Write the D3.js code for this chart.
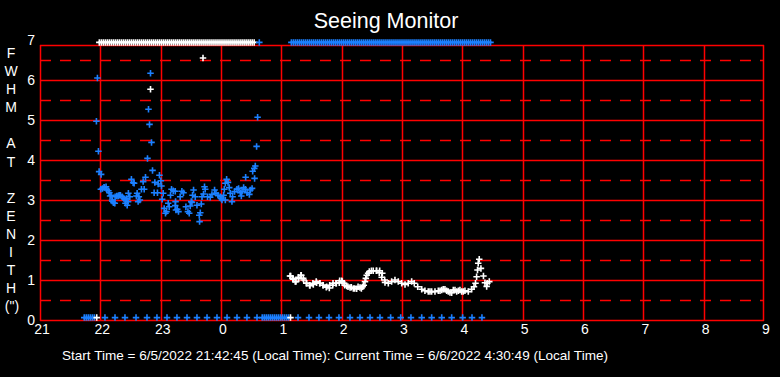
<!DOCTYPE html>
<html><head><meta charset="utf-8">
<script src="https://cdn.jsdelivr.net/npm/d3@7"></script>
<style>
html,body{margin:0;padding:0;background:#000;}
svg{display:block;}
text{font-family:"Liberation Sans",Arial,sans-serif;fill:#fff;}
</style></head>
<body>
<script>
// ---- Data (time = minutes after 21:00 local, value = FWHM at zenith in arcsec) ----
const chartTitle = "Seeing Monitor";
const footerText = "Start Time = 6/5/2022 21:42:45 (Local Time): Current Time = 6/6/2022 4:30:49 (Local Time)";
const yLabelLines = ["F","W","H","M","","A","T","","Z","E","N","I","T","H","(\")"];
const xTickMinutes = [0,60,120,180,240,300,360,420,480,540,600,660,720];
const xTickLabels = ["21","22","23","0","1","2","3","4","5","6","7","8","9"];
const yTickValues = [0,1,2,3,4,5,6,7];
const solidGridValues = [1,2,3,4,5,6];
const dashedGridValues = [0.5,1.5,2.5,3.5,4.5,5.5,6.5];

const blueTimes = [56.1,57.1,58.1,58.8,60.5,60.8,62.1,63.7,64.0,65.7,66.4,68.0,69.0,69.7,70.7,71.7,72.0,73.0,74.4,74.7,76.4,77.7,78.7,80.0,81.7,83.4,84.7,85.0,86.0,86.7,87.6,87.9,89.3,90.9,92.6,93.6,95.9,96.6,97.6,98.3,99.3,100.9,102.6,103.6,104.9,106.9,107.9,108.9,109.9,110.9,111.9,113.5,114.2,116.8,117.5,118.8,120.2,120.8,121.5,122.5,123.5,124.8,125.8,127.5,128.5,129.8,130.8,132.5,134.5,134.5,134.8,135.2,136.5,137.7,139.4,141.1,142.7,145.1,147.1,148.4,149.4,150.4,151.1,151.7,152.7,154.4,156.1,158.4,158.7,159.4,160.4,161.1,162.6,163.6,164.3,166.6,169.3,171.0,173.6,175.0,177.0,179.3,180.3,181.0,182.6,183.3,184.3,184.3,185.6,187.0,188.2,189.2,190.9,191.5,193.5,195.9,197.5,199.2,200.2,200.9,202.5,204.2,204.5,205.9,208.2,209.2,210.9,211.5,213.1,213.4,214.1,215.4,216.4];
const blueValues = [4.97,6.05,4.22,3.71,3.27,3.64,3.29,3.32,3.31,3.33,3.27,3.23,3.18,3.10,3.12,3.00,2.97,2.93,2.92,3.08,3.10,3.10,3.12,3.12,3.08,3.04,3.00,2.92,3.04,2.87,2.96,3.17,3.08,3.52,3.43,3.42,3.10,3.17,2.96,3.08,3.00,3.27,3.46,3.27,3.57,4.04,5.27,4.89,6.17,4.44,3.74,3.18,3.44,3.18,3.40,3.62,3.48,3.35,3.02,3.17,2.79,2.67,2.71,2.92,2.83,3.12,3.27,3.23,3.22,2.86,2.96,2.75,2.77,2.71,3.08,3.22,3.18,2.83,2.71,2.67,2.85,2.96,2.94,3.12,3.25,3.08,2.87,2.62,2.46,2.68,2.90,3.08,3.15,3.33,3.27,3.08,3.07,3.14,3.25,3.17,3.12,3.08,3.04,3.00,3.12,3.27,3.42,3.00,3.52,3.44,3.31,3.17,2.96,3.08,3.21,3.27,3.29,3.18,3.10,3.22,3.31,3.27,3.57,3.18,3.14,3.25,3.29,3.72,3.79,3.54,3.85,4.34,5.07];

const whiteTimes = [109.9,162.1,248.6,249.3,251.4,251.9,253.8,254.6,256.9,257.3,259.5,259.8,261.8,262.2,264.8,265.2,268.1,268.5,271.4,271.8,274.7,275.1,278.1,278.4,281.4,281.7,284.7,285.1,287.7,288.1,291.1,291.4,294.3,294.7,297.6,298.0,300.0,300.6,302.3,303.0,305.0,306.3,308.3,309.6,311.6,313.0,314.9,316.3,318.2,319.6,320.9,322.0,323.2,324.0,324.9,326.3,327.5,329.6,331.4,334.5,334.8,337.4,337.8,339.8,340.4,342.8,343.1,346.4,349.7,353.0,356.3,359.7,363.0,366.2,369.6,372.2,375.6,379.6,382.8,386.1,387.8,389.5,392.8,396.1,397.8,399.5,401.0,402.7,404.4,406.0,407.7,409.4,411.0,412.7,414.4,416.0,417.6,419.3,420.9,422.6,425.9,429.3,431.6,433.1,434.2,435.1,435.8,436.8,438.5,441.0,442.5,444.2,444.8,446.8];
const whiteValues = [5.77,6.55,1.10,1.10,1.04,1.02,0.96,0.96,1.07,1.04,1.12,1.12,1.04,1.00,0.92,0.92,0.87,0.86,0.92,0.89,0.96,0.93,0.92,0.92,0.87,0.87,0.82,0.83,0.80,0.87,0.87,0.92,0.92,0.92,0.93,0.98,0.98,0.96,0.92,0.87,0.85,0.83,0.81,0.82,0.79,0.79,0.78,0.83,0.81,0.79,0.83,0.87,0.96,1.04,1.12,1.17,1.21,1.23,1.23,1.23,1.23,1.18,1.23,1.07,1.17,1.00,0.94,0.92,0.96,1.00,0.96,0.92,0.89,0.92,0.96,0.92,0.83,0.77,0.73,0.71,0.71,0.71,0.71,0.73,0.73,0.75,0.77,0.77,0.73,0.71,0.69,0.68,0.75,0.75,0.71,0.73,0.75,0.71,0.71,0.73,0.71,0.77,0.83,0.92,1.08,1.25,1.42,1.52,1.29,1.10,0.93,0.84,0.92,0.96];

// off-scale readings pinned to the top edge (above 7") and to zero
const topValue = 6.94;
const bottomValue = 0.06;
const topWhiteTimes = [59,61,63,65,67,69,71,73,75,77,79,81,83,85,87,89,91,93,95,97,99,101,103,105,107,109,111,113,115,117,119,121,123,125,127,129,131,133,135,137,139,141,143,145,147,149,151,153,155,157,159,161,163,165,167,169,171,173,175,177,179,181,183,185,187,189,191,193,195,197,199,201,203,205,207,209,211,213];
const topBlueTimes = [218.1,250,252,254,256,258,260,262,264,266,268,270,272,274,276,278,280,282,284,286,288,290,292,294,296,298,300,302,304,306,308,310,312,314,316,318,320,322,324,326,328,330,332,334,336,338,340,342,344,346,348,350,352,354,356,358,360,362,364,366,368,370,372,374,376,378,380,382,384,386,388,390,392,394,396,398,400,402,404,406,408,410,412,414,416,418,420,422,424,426,428,430,432,434,436,438,440,442,444,446,448];
const bottomBlueTimes = [44,46,48,50,52,54,64.6,74.6,84.5,95.5,106.4,116.3,126.3,136.2,146.2,156.1,166.1,176,186,195.9,205.8,215.8,221,223,225,227,229,231,233,235,237,239,241,243,245,247,256.6,267.5,277.4,287.4,297.3,308.3,318.2,328.2,338.1,348.7,358.7,368.9,379.6,389.5,399.5,409.4,420.3,429.6,439.5];
const bottomWhiteTimes = [56.4,249.1];

// ---- Drawing ----
const W = 780, H = 377;
const RED = "#ff0000", BLUE = "#1c80ff", WHITE = "#ffffff";
const svg = d3.select("body").append("svg").attr("width", W).attr("height", H)
  .style("background", "#000");

const x = d3.scaleLinear().domain([0, 720]).range([40, 764]);
const y = d3.scaleLinear().domain([0, 7]).range([320, 40]);
const plotTop = 45, plotBottom = y(0);
const px = v => Math.round(v) + 0.5;
const LW = 1.5;

svg.append("text").attr("x", 386).attr("y", 28).attr("text-anchor", "middle")
  .style("font-size", "21.5px").text(chartTitle);

const grid = svg.append("g");
grid.selectAll("line.dash").data(dashedGridValues).join("line")
  .attr("x1", x(0)).attr("x2", x(720)).attr("y1", d => px(y(d))).attr("y2", d => px(y(d)))
  .attr("stroke", RED).attr("stroke-width", LW).attr("stroke-dasharray", "11,9");
grid.selectAll("line.solid").data(solidGridValues).join("line")
  .attr("x1", x(0)).attr("x2", x(720)).attr("y1", d => px(y(d))).attr("y2", d => px(y(d)))
  .attr("stroke", RED).attr("stroke-width", LW);
grid.selectAll("line.v").data(xTickMinutes.slice(1, -1)).join("line")
  .attr("x1", d => px(x(d))).attr("x2", d => px(x(d))).attr("y1", plotTop).attr("y2", plotBottom)
  .attr("stroke", RED).attr("stroke-width", LW);
grid.append("line").attr("x1", x(0)).attr("x2", x(720)).attr("y1", px(plotBottom)).attr("y2", px(plotBottom))
  .attr("stroke", RED).attr("stroke-width", LW);
grid.append("line").attr("x1", x(0)).attr("x2", x(720)).attr("y1", px(plotTop)).attr("y2", px(plotTop))
  .attr("stroke", RED).attr("stroke-width", LW);
grid.append("line").attr("x1", px(x(0))).attr("x2", px(x(0))).attr("y1", plotTop).attr("y2", plotBottom + 1)
  .attr("stroke", RED).attr("stroke-width", LW);
grid.append("line").attr("x1", px(x(720)) - 1).attr("x2", px(x(720)) - 1).attr("y1", plotTop).attr("y2", plotBottom + 1)
  .attr("stroke", RED).attr("stroke-width", LW);

// axes
const yAxis = svg.append("g").attr("transform", "translate(37,0)")
  .call(d3.axisLeft(y).tickValues(yTickValues).tickSize(0).tickPadding(2).tickFormat(d3.format("d")));
yAxis.select(".domain").remove();
yAxis.selectAll("text").style("font-size", "14px").attr("fill", WHITE).style("font-family", "Liberation Sans, Arial, sans-serif");

const xAxis = svg.append("g").attr("transform", `translate(1.5,${plotBottom})`)
  .call(d3.axisBottom(x).tickValues(xTickMinutes).tickSize(0).tickPadding(4)
    .tickFormat((d, i) => xTickLabels[i]));
xAxis.select(".domain").remove();
xAxis.selectAll("text").style("font-size", "14px").attr("fill", WHITE).style("font-family", "Liberation Sans, Arial, sans-serif");

// vertical y-axis title
svg.append("g").selectAll("text").data(yLabelLines).join("text")
  .attr("x", (d, i) => i === yLabelLines.length - 1 ? 12 : 11)
  .attr("y", (d, i) => 53.3 + i * 18.05).attr("dy", "0.35em")
  .attr("text-anchor", "middle").style("font-size", "14px").text(d => d);

// footer
svg.append("text").attr("x", 62).attr("y", 360).style("font-size", "13px")
  .attr("textLength", 546).attr("lengthAdjust", "spacingAndGlyphs").text(footerText);

// markers
const plus = "M-3.25,0H3.25M0,-3.25V3.25";
function plot(times, values, color) {
  svg.append("g").selectAll("path").data(times).join("path")
    .attr("d", plus)
    .attr("transform", (d, i) => `translate(${x(d)},${y(typeof values === "number" ? values : values[i])})`)
    .attr("stroke", color).attr("stroke-width", 1.6).attr("fill", "none");
}
plot(blueTimes, blueValues, BLUE);
plot(whiteTimes, whiteValues, WHITE);
plot(topWhiteTimes, topValue, WHITE);
plot(topBlueTimes, topValue, BLUE);
plot(bottomBlueTimes, bottomValue, BLUE);
plot(bottomWhiteTimes, bottomValue, WHITE);
</script>
</body></html>
